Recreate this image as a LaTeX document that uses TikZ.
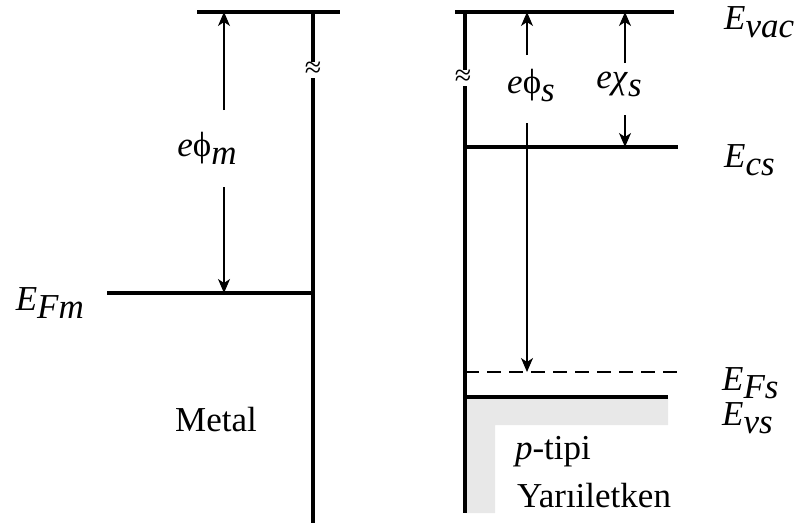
\documentclass[tikz,border=0pt]{standalone}
\usepackage{fontspec}
\setmainfont{Liberation Serif}
\usetikzlibrary{arrows.meta}
\newcommand\sbs[1]{\raisebox{-8pt}{#1}}
\begin{document}
\begin{tikzpicture}[x=1pt,y=-1pt,
  level/.style={line width=4pt},
  wall/.style={line width=3.5pt},
  arr/.style={line width=1.2pt,-{Stealth[length=14pt,width=12pt,inset=4pt]}},
  lbl/.style={font=\fontsize{35}{38}\selectfont,inner sep=0pt},
  brk/.style={fill=white,inner sep=0pt,font=\fontsize{30}{30}\selectfont}]
\useasboundingbox (0,0) rectangle (800,528);
% gray band
\fill[gray!18] (465,396) -- (668,396) -- (668,425) -- (495,425) -- (495,513) -- (465,513) -- cycle;
% metal
\coordinate (mvt) at (313,12);
\coordinate (mvb) at (313,523);
\coordinate (mtl) at (197,12);
\coordinate (mtr) at (340,12);
\coordinate (fml) at (107,293);
\coordinate (fmr) at (313,293);
\draw[level] (mtl) -- (mtr);
\draw[wall] (mvt) -- (mvb);
\draw[level] (fml) -- (fmr);
\node[brk] (b1) at (313,70) {≈};
% metal arrow
\coordinate (m1) at (224,110);
\coordinate (m2) at (224,187);
\coordinate (mtop) at (224,12);
\coordinate (mbot) at (224,293);
\draw[arr] (m1) -- (mtop);
\draw[arr] (m2) -- (mbot);
\node[lbl] (phim) at (207,148) {\textit{e}ϕ\sbs{\textit{m}}};
\node[lbl,anchor=east] (EFm) at (84,303) {\textit{E}\sbs{\textit{Fm}}};
\node[lbl] (metal) at (216,420) {Metal};
% semiconductor
\coordinate (svt) at (465,12);
\coordinate (svb) at (465,513);
\coordinate (vacl) at (455,12);
\coordinate (vacr) at (674,12);
\coordinate (csl) at (465,147);
\coordinate (csr) at (678,147);
\coordinate (fsl) at (465,372);
\coordinate (fsr) at (680,372);
\coordinate (vsl) at (465,397);
\coordinate (vsr) at (668,397);
\draw[level] (vacl) -- (vacr);
\draw[wall] (svt) -- (svb);
\draw[level] (csl) -- (csr);
\draw[level] (vsl) -- (vsr);
\draw[line width=1.2pt,dash pattern=on 14pt off 8pt] (fsl) -- (fsr);
\node[brk] (b2) at (463,78) {≈};
% phi_s arrow
\coordinate (s1) at (527,55);
\coordinate (s2) at (527,123);
\coordinate (stop) at (527,12);
\coordinate (sbot) at (527,372);
\draw[arr] (s1) -- (stop);
\draw[arr] (s2) -- (sbot);
\node[lbl] (phis) at (531,86) {\textit{e}ϕ\sbs{\textit{s}}};
% chi_s arrow
\coordinate (c1) at (625,63);
\coordinate (c2) at (625,115);
\coordinate (ctop) at (625,12);
\coordinate (cbot) at (625,147);
\draw[arr] (c1) -- (ctop);
\draw[arr] (c2) -- (cbot);
\node[lbl] (chis) at (619,84) {\textit{eχ}\sbs{\textit{s}}};
% labels
\node[lbl,anchor=west] (Evac) at (724,22) {\textit{E}\sbs{\textit{vac}}};
\node[lbl,anchor=west] (Ecs) at (724,160) {\textit{E}\sbs{\textit{cs}}};
\node[lbl,anchor=west] (EFs) at (722,383) {\textit{E}\sbs{\textit{Fs}}};
\node[lbl,anchor=west] (Evs) at (722,418) {\textit{E}\sbs{\textit{vs}}};
\node[lbl] (ptipi) at (553,452) {\textit{p}-tipi};
\node[lbl] (yari) at (594,496) {Yarıiletken};
\end{tikzpicture}
\end{document}
